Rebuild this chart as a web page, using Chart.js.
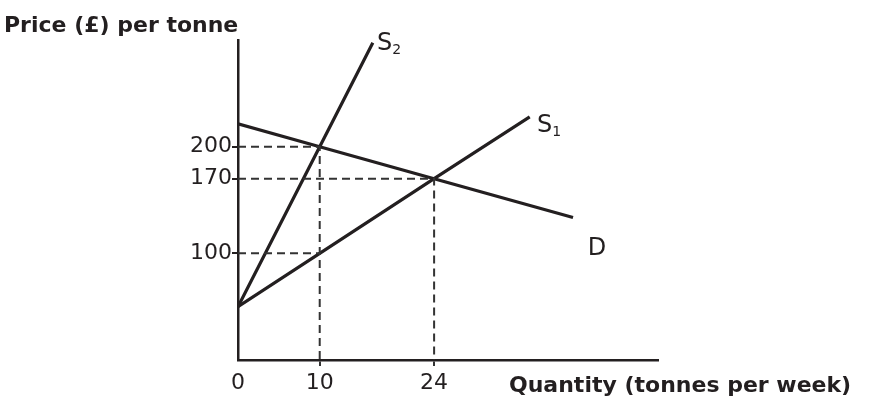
<!DOCTYPE html>
<html>
<head>
<meta charset="utf-8">
<script src="https://cdn.jsdelivr.net/npm/chart.js@4"></script>
<style>
  html, body { margin: 0; padding: 0; background: #fff; }
  #wrap { width: 874px; height: 404px; position: relative; }
</style>
</head>
<body>
<div id="wrap"><canvas id="chart"></canvas></div>
<script>
// tick values
const qtyTicks = [0, 10, 24];
const priceTicks = [100, 170, 200];

// curves (quantity, price)
const s1Qty = [0, 10, 24, 35.7];
const s1Price = [50, 100, 170, 228];
const s2Qty = [0, 10, 16.5];
const s2Price = [50, 200, 297.5];
const dQty = [0, 10, 24, 41];
const dPrice = [221.4, 200, 170, 133.6];

// dashed guide lines
const guide200 = [[0, 200], [10, 200], [10, 0]];
const guide170 = [[0, 170], [24, 170], [24, 0]];
const guide100 = [[0, 100], [10, 100]];

// curve labels (text, sub, quantity, price)
const curveLabels = [
  ['S', '2', 17, 291],
  ['S', '1', 36.6, 214],
  ['D', '', 42.8, 98.6]
];

const ink = '#231f20';
const font = 'DejaVu Sans';

function pts(xs, ys) {
  return xs.map((x, i) => ({ x: x, y: ys[i] }));
}

function curve(xs, ys) {
  return { data: pts(xs, ys), borderColor: ink, borderWidth: 3.2, pointRadius: 0, tension: 0 };
}

function guide(p) {
  return {
    data: p.map(v => ({ x: v[0], y: v[1] })),
    borderColor: '#333', borderWidth: 2, borderDash: [8, 5], pointRadius: 0, tension: 0
  };
}

const textPlugin = {
  id: 'texts',
  afterDraw(chart) {
    const ctx = chart.ctx;
    const xs = chart.scales.x, ys = chart.scales.y;
    ctx.save();
    ctx.fillStyle = ink;
    ctx.textBaseline = 'alphabetic';
    ctx.textAlign = 'left';
    ctx.font = 'bold 22px "' + font + '"';
    ctx.fillText('Price (£) per tonne', 4, 32);
    ctx.fillText('Quantity (tonnes per week)', 509, 392);
    curveLabels.forEach(l => {
      const px = xs.getPixelForValue(l[2]);
      const py = ys.getPixelForValue(l[3]);
      ctx.font = '24px "' + font + '"';
      ctx.fillText(l[0], px, py);
      if (l[1]) {
        const w = ctx.measureText(l[0]).width;
        ctx.font = '14px "' + font + '"';
        ctx.fillText(l[1], px + w, py + 4);
      }
    });
    ctx.restore();
  }
};

new Chart(document.getElementById('chart'), {
  type: 'line',
  data: {
    datasets: [
      guide(guide200), guide(guide170), guide(guide100),
      curve(s1Qty, s1Price), curve(s2Qty, s2Price), curve(dQty, dPrice)
    ]
  },
  options: {
    responsive: true,
    maintainAspectRatio: false,
    animation: false,
    layout: { padding: { top: 40, right: 216, left: 0, bottom: 0 } },
    plugins: { legend: { display: false }, tooltip: { enabled: false } },
    scales: {
      x: {
        type: 'linear', min: 0, max: 51.4,
        afterBuildTicks: s => { s.ticks = qtyTicks.map(v => ({ value: v })); },
        afterFit: s => { s.height = 44; },
        border: { display: true, color: ink, width: 2.5 },
        grid: {
          drawOnChartArea: false, drawTicks: true, tickLength: 6, lineWidth: 2,
          color: c => (c.tick && c.tick.value === 0) ? 'rgba(0,0,0,0)' : '#333'
        },
        ticks: { color: ink, padding: 4, font: { family: font, size: 22 }, maxRotation: 0 }
      },
      y: {
        type: 'linear', min: 0, max: 300,
        afterBuildTicks: s => { s.ticks = priceTicks.map(v => ({ value: v })); },
        afterFit: s => { s.width = 238; },
        border: { display: true, color: ink, width: 2.5 },
        grid: { drawOnChartArea: false, drawTicks: true, tickLength: 6, lineWidth: 2, color: ink },
        ticks: { color: ink, padding: 0, font: { family: font, size: 22 } }
      }
    }
  },
  plugins: [textPlugin]
});
</script>
</body>
</html>
